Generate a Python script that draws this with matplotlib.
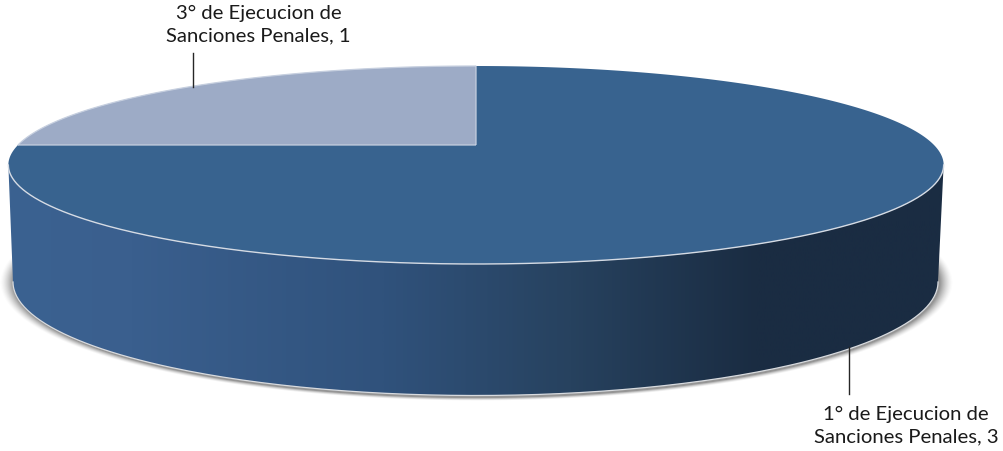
import matplotlib
matplotlib.use('Agg')
import matplotlib.pyplot as plt
import numpy as np
from matplotlib.colors import LinearSegmentedColormap
from matplotlib.patches import PathPatch, Polygon
from matplotlib.path import Path

# Values from the chart
labels = ['1° de Ejecucion de\nSanciones Penales, 3', '3° de Ejecucion de\nSanciones Penales, 1']
values = [3, 1]

plt.rcParams['font.family'] = ['Lato', 'DejaVu Sans']

W, H = 1004, 452
fig = plt.figure(figsize=(W / 100, H / 100), dpi=100)
ax = fig.add_axes([0, 0, 1, 1])
ax.set_xlim(0, W)
ax.set_ylim(H, 0)
ax.axis('off')

# Pie plane seen in perspective, the slices meet at (cx, cy)
cx, cy = 476, 146
far, near = 79, 119
k = (near - far) / (near + far)
A = far * (1 + k)
B = 458


def project(theta):
    u, v = np.cos(theta), np.sin(theta)
    return np.column_stack([cx + B * u / (1 + k * v), cy - A * v / (1 + k * v)])


# bottom outline of the disc
bx, by, brx, bry = 475.5, 283, 462.5, 113.5
rim = np.radians(np.linspace(180, 360, 200))
bottom = np.column_stack([bx + brx * np.cos(rim), by - bry * np.sin(rim)])
a = np.arcsin(k)
front = project(np.linspace(np.pi + a, 2 * np.pi - a, 300))

# soft shadow under the disc, fades out towards the edge
xx, yy = np.meshgrid(np.arange(W), np.arange(H))
dist = np.sqrt(((xx - 476) / 471.0) ** 2 + ((yy - 283) / 117.0) ** 2)
shadow = np.clip((1.012 - dist) / 0.028, 0, 1) ** 1.5
shadow_rgba = np.zeros((H, W, 4))
shadow_rgba[..., :3] = 0.45
shadow_rgba[..., 3] = shadow * 0.75
ax.imshow(shadow_rgba, extent=(0, W, H, 0), aspect='auto', zorder=1, interpolation='bilinear')

# side wall with a left to right gradient
cmap = LinearSegmentedColormap.from_list('wall', [
    (0.0, '#3b6291'), (0.13, '#3a5f8e'), (0.40, '#30527c'),
    (0.60, '#27425f'), (0.80, '#1a2c42'), (1.0, '#1a2c42')])
side_pts = np.vstack([front, bottom[::-1]])
side = Polygon(side_pts, closed=True, facecolor='none', edgecolor='none', transform=ax.transData)
ax.add_patch(side)
grad = ax.imshow(np.linspace(0, 1, 512).reshape(1, -1), cmap=cmap, vmin=0, vmax=1,
                 extent=(8, 945, H, 0), aspect='auto', zorder=2)
grad.set_clip_path(side)
ax.set_xlim(0, W)
ax.set_ylim(H, 0)

# top face: slices start at 12 o'clock and run clockwise
colors = ['#38638f', '#9dabc6']
edges = ['none', '#c6cfdf']
start = 90.0
total = sum(values)
for val, col, edge in zip(values, colors, edges):
    sweep = 360.0 * val / total
    arc = project(np.radians(np.linspace(start, start - sweep, 400)))
    verts = np.vstack([[cx, cy], arc, [cx, cy]])
    ax.add_patch(PathPatch(Path(verts), facecolor=col, edgecolor=edge, linewidth=0.9,
                           zorder=3 if val == values[0] else 4, antialiased=True))
    start -= sweep

# light rims
ax.plot(front[:, 0], front[:, 1], color='#d5dbe4', lw=1.0, zorder=5)
ax.plot(bottom[:, 0], bottom[:, 1], color='#d8dbdf', lw=0.9, zorder=5)

# labels with leader lines
ax.plot([849, 849], [348, 395], color='#262626', lw=1.0, zorder=6)
ax.plot([193, 193], [88, 54], color='#262626', lw=1.0, zorder=6)
ax.text(906, 425.5, labels[0], ha='center', va='center', fontsize=14.6, color='#1a1a1a',
        linespacing=1.37, zorder=7)
ax.text(258.5, 24.5, labels[1], ha='center', va='center', fontsize=14.6, color='#1a1a1a',
        linespacing=1.37, zorder=7)

fig.savefig('out.png', dpi=100, facecolor='white')
